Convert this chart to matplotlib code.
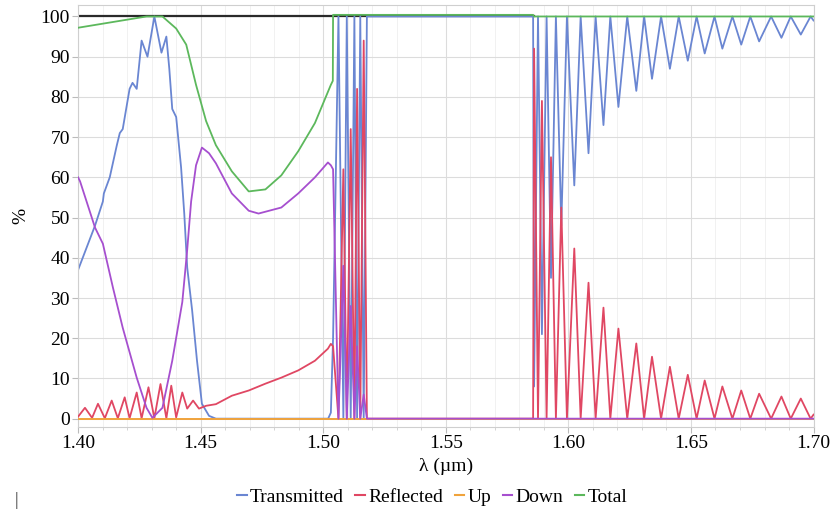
import matplotlib
matplotlib.use("Agg")
import matplotlib.pyplot as plt
from matplotlib.lines import Line2D
from matplotlib.ticker import MultipleLocator

plt.rcParams['font.family'] = ['Liberation Serif', 'DejaVu Serif']

# wavelength (um) and values (%)
lam_T = [1.4000, 1.4069, 1.4101, 1.4105, 1.4129, 1.4158, 1.4170, 1.4182, 1.4210, 1.4222,
         1.4239, 1.4259, 1.4283, 1.4311, 1.4340, 1.4360, 1.4372, 1.4384, 1.4400, 1.4420,
         1.4433, 1.4445, 1.4465, 1.4485, 1.4505, 1.4534, 1.4562, 1.5020, 1.5031, 1.5040,
         1.5062, 1.5082, 1.5096, 1.5112, 1.5127, 1.5138, 1.5151, 1.5165, 1.5178, 1.5856,
         1.5860, 1.5876, 1.5892, 1.5911, 1.5929, 1.5949, 1.5971, 1.5994, 1.6024, 1.6050,
         1.6082, 1.6111, 1.6143, 1.6171, 1.6204, 1.6240, 1.6277, 1.6309, 1.6341, 1.6378,
         1.6414, 1.6450, 1.6487, 1.6523, 1.6556, 1.6596, 1.6628, 1.6669, 1.6705, 1.6742,
         1.6778, 1.6827, 1.6869, 1.6907, 1.6948, 1.6988, 1.7000]
transmitted = [37, 48, 54, 56, 60, 68, 71, 72, 82, 83.5,
               82, 94, 90, 100, 91, 95, 87, 77, 75, 62.5,
               51, 37.6, 27, 14.4, 3.7, 0.7, 0, 0, 1.5, 20,
               100, 0, 100, 0, 100, 0, 100, 0, 100, 100,
               8, 100, 21, 100, 35, 100, 48, 100, 58, 100,
               66, 100, 73, 100, 77.5, 100, 81.5, 100, 84.5, 100,
               87, 100, 89, 100, 90.8, 100, 92, 100, 93, 100,
               93.8, 100, 94.7, 100, 95.5, 100, 99]

lam_R = [1.4000, 1.4028, 1.4057, 1.4081, 1.4109, 1.4137, 1.4162, 1.4190, 1.4210, 1.4239,
         1.4259, 1.4287, 1.4311, 1.4336, 1.4360, 1.4380, 1.4400, 1.4425, 1.4445, 1.4469,
         1.4493, 1.4522, 1.4562, 1.4627, 1.4696, 1.4764, 1.4829, 1.4898, 1.4966, 1.5019,
         1.5031, 1.5040, 1.5062, 1.5082, 1.5096, 1.5112, 1.5127, 1.5138, 1.5151, 1.5165,
         1.5178, 1.5856, 1.5860, 1.5876, 1.5892, 1.5911, 1.5929, 1.5949, 1.5971, 1.5994,
         1.6024, 1.6050, 1.6082, 1.6111, 1.6143, 1.6171, 1.6204, 1.6240, 1.6277, 1.6309,
         1.6341, 1.6378, 1.6414, 1.6450, 1.6487, 1.6523, 1.6556, 1.6596, 1.6628, 1.6669,
         1.6705, 1.6742, 1.6778, 1.6827, 1.6869, 1.6907, 1.6948, 1.6988, 1.7000]
reflected = [0.5, 2.7, 0.2, 3.7, 0.1, 4.5, 0.1, 5.3, 0.1, 6.5,
             0.1, 7.8, 0.1, 8.6, 0.1, 8.2, 0.3, 6.5, 2.5, 4.5,
             2.5, 3.2, 3.6, 5.7, 7, 8.7, 10.2, 12, 14.4, 17.4,
             18.6, 18, 0, 62, 0, 72, 0, 82, 0, 94,
             0, 0, 92, 0, 79, 0, 65, 0, 52.5, 0,
             42.3, 0, 33.8, 0, 27.6, 0, 22.4, 0, 18.7, 0,
             15.4, 0, 12.9, 0, 10.9, 0, 9.5, 0, 8, 0,
             7, 0, 6.2, 0, 5.5, 0, 5, 0, 1]

lam_U = [1.40, 1.70]
up = [0, 0]

lam_D = [1.4000, 1.4008, 1.4069, 1.4101, 1.4142, 1.4182, 1.4239, 1.4279, 1.4303, 1.4344,
         1.4384, 1.4425, 1.4445, 1.4461, 1.4481, 1.4505, 1.4534, 1.4562, 1.4627, 1.4696,
         1.4736, 1.4829, 1.4898, 1.4966, 1.5019, 1.5031, 1.5040, 1.5062, 1.5082, 1.5096,
         1.5112, 1.5127, 1.5138, 1.5151, 1.5165, 1.5178, 1.7000]
down = [60, 59, 47.5, 43.5, 32.6, 22.6, 10.2, 2.7, 0.2, 2.7,
        14.4, 29, 42, 54, 63, 67.4, 66, 63.5, 56, 51.7,
        51, 52.5, 56, 60, 63.7, 63, 62, 0, 38, 0,
        28, 0, 18, 0, 6, 0, 0]

lam_tot = [1.4000, 1.4279, 1.4344, 1.4400, 1.4441, 1.4481, 1.4522, 1.4562, 1.4627, 1.4696,
           1.4764, 1.4829, 1.4898, 1.4966, 1.5031, 1.5039, 1.5040, 1.5856, 1.5860, 1.7000]
total = [97.2, 100, 100, 97, 93, 83, 74, 68, 61.5, 56.5,
         57, 60.5, 66.5, 73.5, 83, 84, 100.4, 100.4, 100, 100]

lam_ref = [1.40, 1.5858]
ref = [100, 100]

names = ['Transmitted', 'Reflected', 'Up', 'Down', 'Total']
colors = ['#6a86d2', '#e04763', '#f0a33c', '#a64fcf', '#5cb85c']

fig = plt.figure(figsize=(8.31, 5.21), dpi=100)
ax = fig.add_axes([0.094, 0.181, 0.885, 0.809])

ax.plot(lam_ref, ref, color='#2a2a2a', lw=1.6, zorder=1)
ax.plot(lam_T, transmitted, color=colors[0], lw=1.3, zorder=2)
ax.plot(lam_R, reflected, color=colors[1], lw=1.3, zorder=3)
ax.plot(lam_U, up, color=colors[2], lw=1.4, zorder=3)
ax.plot(lam_D, down, color=colors[3], lw=1.3, zorder=4)
ax.plot(lam_tot, total, color=colors[4], lw=1.3, zorder=5)

ax.set_xlim(1.40, 1.70)
ax.set_ylim(-2, 102.8)
ax.xaxis.set_major_locator(MultipleLocator(0.05))
ax.xaxis.set_minor_locator(MultipleLocator(0.01))
ax.yaxis.set_major_locator(MultipleLocator(10))
ax.xaxis.set_major_formatter(matplotlib.ticker.FormatStrFormatter('%.2f'))
ax.grid(which='major', color='#dcdcdc', lw=0.8)
ax.grid(which='minor', axis='x', color='#efefef', lw=0.6)
ax.set_axisbelow(True)
for s in ax.spines.values():
    s.set_color('#cfcfcf')
ax.tick_params(axis='both', which='major', labelsize=14, length=4, color='#bbbbbb', pad=2)
ax.tick_params(axis='x', which='minor', length=2, color='#cccccc')

ax.set_xlabel('λ (µm)', fontsize=14, labelpad=4)
ax.set_ylabel('%', fontsize=14, labelpad=8)

handles = [Line2D([0], [0], color=c, lw=1.5) for c in colors]
fig.legend(handles, names, loc='center', bbox_to_anchor=(0.52, 0.046), ncol=5,
           frameon=False, fontsize=14, handlelength=0.5, handletextpad=0.15,
           columnspacing=0.6)
fig.text(0.018, 0.03, '|', fontsize=13, color='#333333')

fig.savefig('out.png', dpi=100)
